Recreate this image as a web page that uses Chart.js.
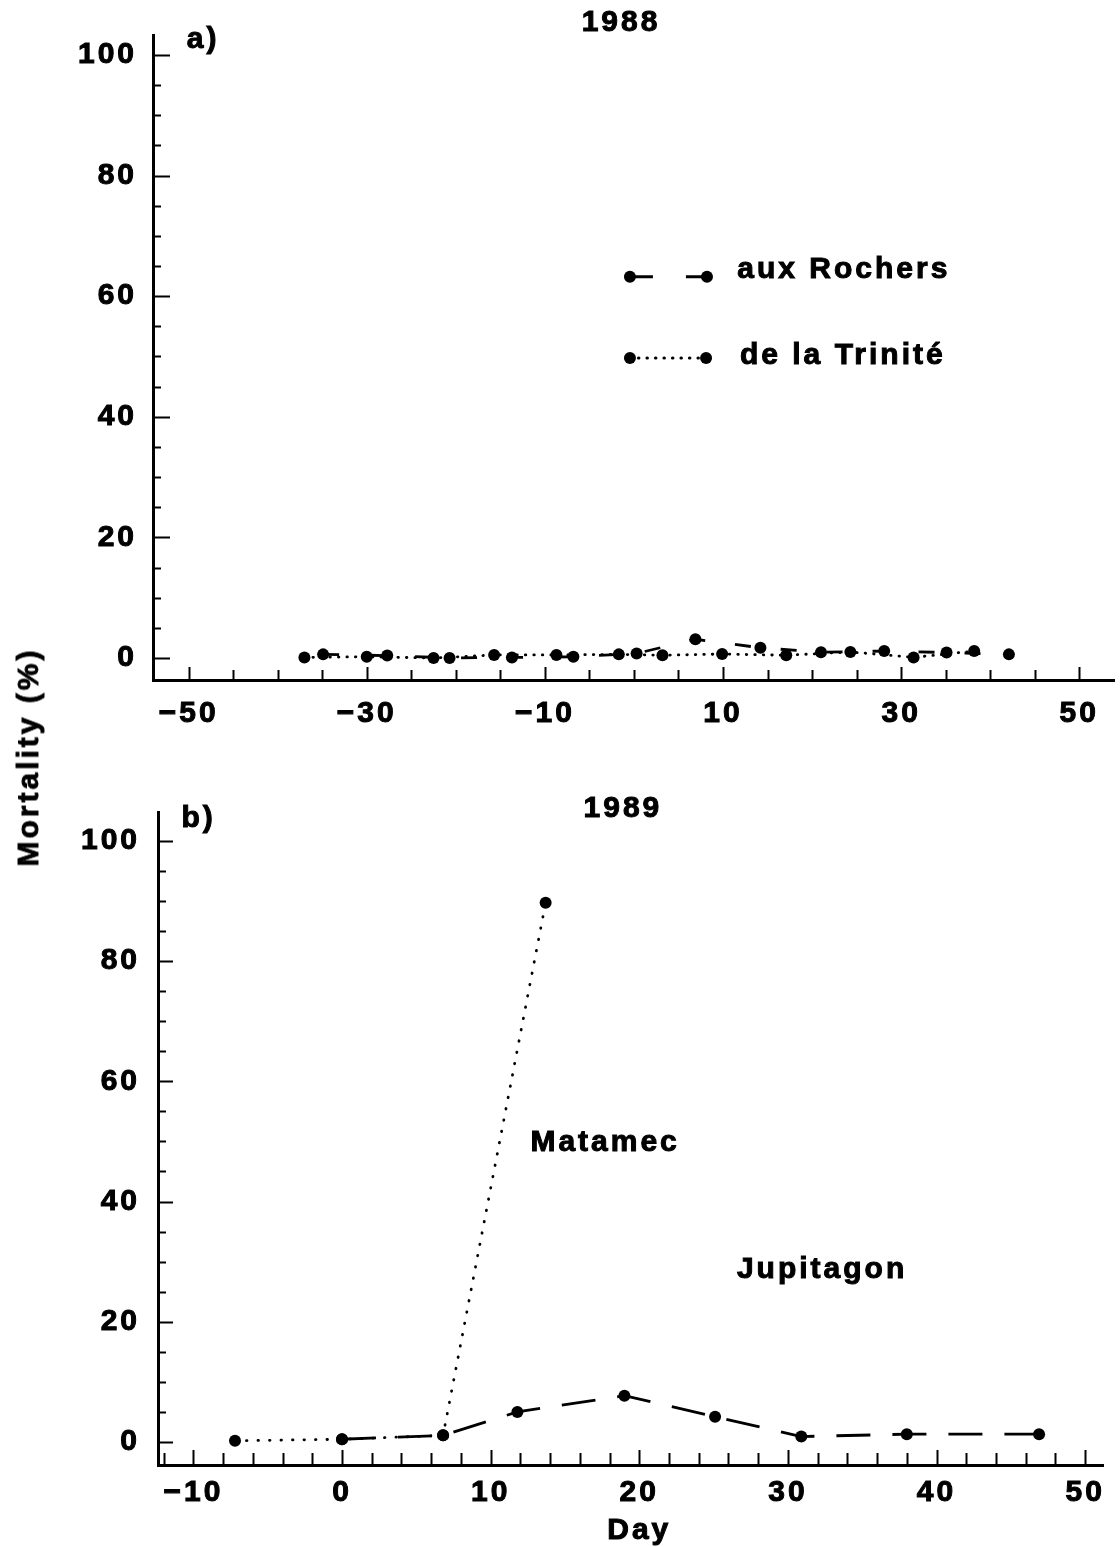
<!DOCTYPE html>
<html>
<head>
<meta charset="utf-8">
<title>Mortality 1988 / 1989</title>
<script src="https://cdn.jsdelivr.net/npm/chart.js@4.4.1/dist/chart.umd.min.js"></script>
<style>
  body { margin: 0; background: #fff; width: 1120px; height: 1547px; position: relative; overflow: hidden; }
  canvas { position: absolute; left: 0; }
  #ytitle {
    position: absolute; left: 28px; top: 757px;
    transform: translate(-50%, -50%) rotate(-90deg);
    font: bold 30px "Liberation Sans", Arial, sans-serif;
    -webkit-text-stroke: 0.8px #000;
    letter-spacing: 3px; white-space: nowrap; color: #000;
  }
</style>
</head>
<body>
<canvas id="chartA" width="1120" height="760" style="top:0"></canvas>
<canvas id="chartB" width="1120" height="787" style="top:760px"></canvas>
<div id="ytitle">Mortality (%)</div>
<script>
// 1988 - a)
const trinDays = [-37, -30, -22.5, -15.7, -8.7, -1.7, 3.2, 9.9, 17.1, 24.3, 31.4, 38.2];
const trinMort = [0.1, 0.2, 0, 0.5, 0.5, 0.6, 0.45, 0.65, 0.45, 1.0, 0.1, 1.15];
const rochDays = [-34.9, -27.7, -20.7, -13.7, -6.8, 0.3, 6.9, 14.2, 21.0, 28.1, 35.1, 42.1];
const rochMort = [0.6, 0.4, 0, 0.1, 0.2, 0.75, 3.1, 1.7, 0.95, 1.15, 0.9, 0.6];

// 1989 - b)
const matDays = [-7.2, 0, 6.8, 13.7];
const matMort = [0.2, 0.45, 1.1, 89.7];
const jupDays = [0, 6.8, 11.8, 19.0, 25.1, 30.9, 38.0, 46.9];
const jupMort = [0.45, 1.1, 5.0, 7.7, 4.2, 0.9, 1.3, 1.3];

const xTicksA = [-50, -30, -10, 10, 30, 50];
const xTicksB = [-10, 0, 10, 20, 30, 40, 50];
const yTicks = [0, 20, 40, 60, 80, 100];

const FONT = '"Liberation Sans", Arial, Helvetica, sans-serif';
Chart.defaults.font.family = FONT;
Chart.defaults.font.weight = 'bold';
Chart.defaults.font.size = 30;
Chart.defaults.color = '#000';

function pts(xs, ys) { return xs.map((x, i) => ({ x: x, y: ys[i] })); }
function minus(v) { return v < 0 ? '\u2212' + Math.abs(v) : String(v); }

// inward tick marks, text notes and the hand drawn legend
function makeInk(cfg) {
  return {
    id: 'ink',
    beforeDraw(chart) { chart.ctx.letterSpacing = '3px'; },
    afterDraw(chart) {
      const ctx = chart.ctx;
      const sx = chart.scales.x, sy = chart.scales.y;
      const area = chart.chartArea;
      ctx.save();
      ctx.strokeStyle = '#000';
      ctx.fillStyle = '#000';
      ctx.lineWidth = 2;

      const tx = cfg.xTicks;
      for (let i = 0; ; i++) {
        const v = tx.from + i * tx.step;
        if (v > sx.max) break;
        const px = Math.round(sx.getPixelForValue(v)) + 0.5;
        const len = tx.major.includes(v) ? tx.majorLen : tx.minorLen;
        ctx.beginPath(); ctx.moveTo(px, area.bottom); ctx.lineTo(px, area.bottom - len); ctx.stroke();
      }
      const ty = cfg.yTicks;
      for (let i = 0; ; i++) {
        const v = ty.from + i * ty.step;
        if (v > sy.max) break;
        const py = Math.round(sy.getPixelForValue(v)) + 0.5;
        const len = ty.major.includes(v) ? ty.majorLen : ty.minorLen;
        ctx.beginPath(); ctx.moveTo(area.left, py); ctx.lineTo(area.left + len, py); ctx.stroke();
      }

      ctx.font = 'bold 30px ' + FONT;
      ctx.letterSpacing = '3px';
      ctx.textBaseline = 'middle';
      ctx.lineWidth = 1;
      const write = (t, x, y) => { ctx.fillText(t, x, y); ctx.strokeText(t, x, y); };
      (cfg.notes || []).forEach(n => {
        ctx.textAlign = n.align || 'center';
        write(n.text, sx.getPixelForValue(n.x), sy.getPixelForValue(n.y));
      });

      (cfg.legend || []).forEach(l => {
        const x1 = sx.getPixelForValue(l.x1), x2 = sx.getPixelForValue(l.x2);
        const py = sy.getPixelForValue(l.y);
        ctx.save();
        ctx.lineWidth = 3;
        ctx.lineCap = l.cap;
        ctx.setLineDash(l.dash);
        ctx.beginPath(); ctx.moveTo(x1, py); ctx.lineTo(x2, py); ctx.stroke();
        ctx.restore();
        [x1, x2].forEach(x => { ctx.beginPath(); ctx.arc(x, py, 6, 0, Math.PI * 2); ctx.fill(); });
        ctx.textAlign = 'left';
        write(l.text, sx.getPixelForValue(l.textX), sy.getPixelForValue(l.textY));
      });
      ctx.restore();
    }
  };
}

function scales(o) {
  return {
    x: {
      type: 'linear', min: o.xmin, max: o.xmax,
      grid: { display: false },
      border: { display: true, width: 3, color: '#000' },
      afterBuildTicks: s => { s.ticks = o.xTicks.map(v => ({ value: v })); },
      afterFit: s => { s.height = o.xH; },
      ticks: { padding: o.xPad, maxRotation: 0, autoSkip: false, callback: v => minus(v),
               textStrokeColor: '#000', textStrokeWidth: 1 }
    },
    y: {
      type: 'linear', min: o.ymin, max: o.ymax,
      grid: { display: false },
      border: { display: true, width: 3, color: '#000' },
      afterBuildTicks: s => { s.ticks = yTicks.map(v => ({ value: v })); },
      afterFit: s => { s.width = o.yW; },
      ticks: { padding: o.yPad, autoSkip: false, callback: v => minus(v),
               textStrokeColor: '#000', textStrokeWidth: 1 }
    }
  };
}

function lineSet(label, xs, ys, dash, cap) {
  return {
    label: label, data: pts(xs, ys), showLine: true,
    borderColor: '#000', borderWidth: 2.8, borderDash: dash, borderCapStyle: cap,
    pointRadius: 6, pointBorderWidth: 0, pointBackgroundColor: '#000', fill: false
  };
}

const common = {
  responsive: false, animation: false, devicePixelRatio: 1,
  plugins: { legend: { display: false }, tooltip: { enabled: false } }
};

new Chart(document.getElementById('chartA'), {
  type: 'scatter',
  data: {
    datasets: [
      lineSet('aux Rochers', rochDays, rochMort, [16, 30], 'butt'),
      lineSet('de la Trinité', trinDays, trinMort, [0.5, 8], 'round')
    ]
  },
  options: Object.assign({}, common, {
    layout: { padding: { top: 35, right: 2, left: 0, bottom: 0 } },
    scales: scales({ xmin: -54, xmax: 53.9, ymin: -3.65, ymax: 103.3, xTicks: xTicksA,
                     xH: 80, yW: 153, xPad: 8, yPad: 8 })
  }),
  plugins: [makeInk({
    xTicks: { from: -50, step: 5, major: xTicksA, majorLen: 13, minorLen: 10 },
    yTicks: { from: 0, step: 5, major: yTicks, majorLen: 17, minorLen: 8 },
    notes: [
      { text: '1988', x: -1.45, y: 105.3 },
      { text: 'a)', x: -50.2, y: 102.5, align: 'left' }
    ],
    legend: [
      { x1: -0.45, x2: 8.2, y: 63.2, dash: [23, 33], cap: 'butt', textX: 11.6, textY: 64.3, text: 'aux Rochers' },
      { x1: -0.45, x2: 8.1, y: 49.75, dash: [0.5, 8], cap: 'round', textX: 11.9, textY: 50.2, text: 'de la Trinité' }
    ]
  })]
});

new Chart(document.getElementById('chartB'), {
  type: 'scatter',
  data: {
    datasets: [
      lineSet('Jupitagon', jupDays, jupMort, [34, 22], 'butt'),
      lineSet('Matamec', matDays, matMort, [0.5, 11], 'round')
    ]
  },
  options: Object.assign({}, common, {
    layout: { padding: { top: 52, right: 17, left: 0, bottom: 0 } },
    scales: scales({ xmin: -12.38, xmax: 51.2, ymin: -3.83, ymax: 104.8, xTicks: xTicksB,
                     xH: 82, yW: 158, xPad: 2, yPad: 10 })
  }),
  plugins: [makeInk({
    xTicks: { from: -12, step: 2, major: xTicksB, majorLen: 15, minorLen: 12 },
    yTicks: { from: 0, step: 5, major: yTicks, majorLen: 15, minorLen: 8 },
    notes: [
      { text: '1989', x: 18.9, y: 105.3 },
      { text: 'b)', x: -10.8, y: 103.7, align: 'left' },
      { text: 'Matamec', x: 17.7, y: 49.8 },
      { text: 'Jupitagon', x: 32.3, y: 28.7 },
      { text: 'Day', x: 20, y: -14.7 }
    ]
  })]
});
</script>
</body>
</html>
